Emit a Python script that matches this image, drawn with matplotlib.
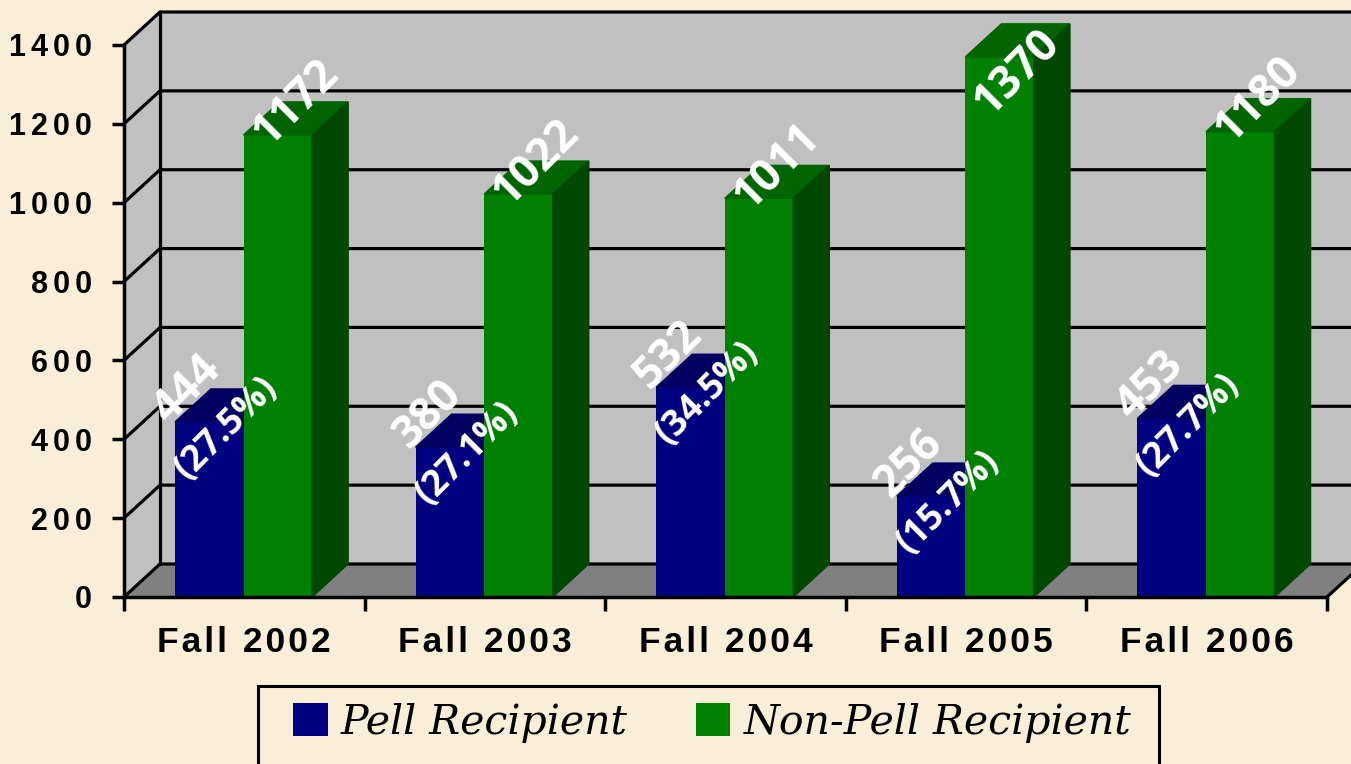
import matplotlib
matplotlib.use("Agg")
import matplotlib.pyplot as plt
import matplotlib.patches as mpatches

# data
terms = ["Fall 2002", "Fall 2003", "Fall 2004", "Fall 2005", "Fall 2006"]
pell = [444, 380, 532, 256, 453]
pell_pct = ["27.5%", "27.1%", "34.5%", "15.7%", "27.7%"]
non_pell = [1172, 1022, 1011, 1370, 1180]
y_ticks = [0, 200, 400, 600, 800, 1000, 1200, 1400]
series_names = ["Pell Recipient", "Non-Pell Recipient"]

BG = "#f9eed7"
NAVY = ("#000080", "#000062", "#000050")
GREEN = ("#008000", "#006400", "#004700")
WALL = "#c0c0c0"
FLOOR = "#808080"

W, H = 1351, 764
fig = plt.figure(figsize=(W / 100, H / 100), dpi=100, facecolor=BG)
ax = fig.add_axes([124 / W, (H - 597) / H, 1203 / W, 552 / H])
n = len(terms)
ymax = y_ticks[-1]
ax.set_xlim(0, n)
ax.set_ylim(0, ymax)
ax.patch.set_visible(False)

# depth of the fake 3d box, in data units
dx = 36 / 1203 * n
dy = 33 / 552 * ymax

# walls and floor
ax.fill([0, dx, dx, 0], [0, dy, ymax + dy, ymax], color=WALL, zorder=0.5, clip_on=False)
ax.fill([dx, n + dx, n + dx, dx], [dy, dy, ymax + dy, ymax + dy], color=WALL, zorder=0.5, clip_on=False)
ax.fill([0, n, n + dx, dx], [0, 0, dy, dy], color=FLOOR, zorder=0.6, clip_on=False)

for y in y_ticks:
    ax.plot([0, dx, n + dx], [y, y + dy, y + dy], color="black", lw=2.3, zorder=0.7, clip_on=False)
ax.plot([dx, dx], [dy, ymax + dy], color="black", lw=2.3, zorder=0.7, clip_on=False)
ax.plot([n, n + dx], [0, dy], color="black", lw=2.3, zorder=0.7, clip_on=False)


def bar3d(x, w, h, cols):
    ax.bar(x, h, width=w, align="edge", color=cols[0], zorder=2, clip_on=False)
    ax.fill([x, x + w, x + w + dx, x + dx], [h, h, h + dy, h + dy], color=cols[1], zorder=2, clip_on=False)
    ax.fill([x + w, x + w + dx, x + w + dx, x + w], [0, dy, h + dy, h], color=cols[2], zorder=2, clip_on=False)


bw = 0.285
off = 0.212
lab_font = dict(family=["Open Sans", "DejaVu Sans"], weight="bold", color="white",
                rotation=45, rotation_mode="anchor", ha="center", va="center", zorder=5)
s = 14  # half line gap (points) along the rotated text's normal
for i in range(n):
    x0 = i + off
    bar3d(x0, bw, pell[i], NAVY)
    bar3d(x0 + bw, bw, non_pell[i], GREEN)
    xy = (x0 + bw / 2 - 0.01, pell[i] + 33)
    ax.annotate(f"{pell[i]}", xy, xytext=(-s, s), textcoords="offset points", size=32, **lab_font)
    ax.annotate(f"({pell_pct[i]})", xy, xytext=(s, -s), textcoords="offset points", size=26, **lab_font)
    ax.text(x0 + 1.5 * bw + dx / 2, min(non_pell[i] + 80, 1330), f"{non_pell[i]}", size=32, **lab_font)

# axes, ticks and labels
for sp in ["top", "right"]:
    ax.spines[sp].set_visible(False)
for sp in ["left", "bottom"]:
    ax.spines[sp].set_linewidth(2.5)
    ax.spines[sp].set_zorder(3)

tick_font = dict(family="Liberation Sans", weight="bold")
ax.set_yticks(y_ticks)
ax.set_yticklabels(["\u200a\u200a".join(str(v)) for v in y_ticks], size=22, **tick_font)
ax.tick_params(axis="y", length=9, width=2.5, pad=14, direction="out")

ax.set_xticks([i + 0.5 for i in range(n)])
ax.set_xticklabels(["\u200a".join(t) for t in terms], size=25.5, **tick_font)
ax.set_xticks(range(n + 1), minor=True)
ax.tick_params(axis="x", which="major", length=0, pad=21)
ax.tick_params(axis="x", which="minor", length=10, width=2.5, direction="out")

handles = [mpatches.Patch(facecolor=NAVY[0]), mpatches.Patch(facecolor=GREEN[0])]
leg = fig.legend(handles, series_names, loc="center", ncol=2,
                 bbox_to_anchor=(712 / W, 1 - 723 / H), borderaxespad=0, borderpad=0,
                 prop=dict(family="DejaVu Serif", style="italic", size=29.5),
                 handlelength=0.85, handleheight=0.85, handletextpad=0.32,
                 columnspacing=1.66, frameon=False)

# legend box: runs off the bottom edge like the original
fig.canvas.draw()
bb = leg.get_window_extent()
box = mpatches.Rectangle(((bb.x0 - 35) / W, -0.05), (bb.width + 63) / W, (H - 686) / H + 0.05,
                         transform=fig.transFigure, facecolor="none", edgecolor="black",
                         lw=2.2, clip_on=False)
fig.patches.append(box)

fig.savefig("out.png", dpi=100, facecolor=BG)
